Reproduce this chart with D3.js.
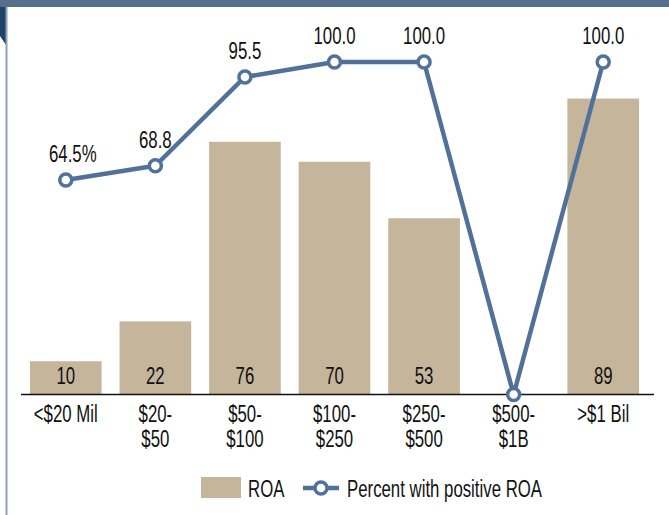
<!DOCTYPE html>
<html>
<head>
<meta charset="utf-8">
<script src="https://cdn.jsdelivr.net/npm/d3@7"></script>
<style>
  body { margin: 0; background: #fff; }
  svg { display: block; font-family: "Liberation Sans", Arial, sans-serif; }
</style>
</head>
<body>
<div id="chart"></div>
<script>
var categories = ["<$20 Mil", "$20-|$50", "$50-|$100", "$100-|$250", "$250-|$500", "$500-|$1B", ">$1 Bil"];
var roa = [10, 22, 76, 70, 53, null, 89];
var pctPositive = [64.5, 68.8, 95.5, 100.0, 100.0, 0, 100.0];
var pctLabels = ["64.5%", "68.8", "95.5", "100.0", "100.0", "", "100.0"];

var w = 669, h = 515;
var barColor = "#c4b59b",
    lineColor = "#52719a",
    textColor = "#111",
    fontSize = "24px",
    squeeze = 0.7;   // condensed look

var svg = d3.select("#chart")
            .append("svg")
            .attr("width", w)
            .attr("height", h);

// places a condensed text at x,y
function place(sel, x, y) {
	return sel.attr("transform", function(d, i) {
		var xx = typeof x === "function" ? x(d, i) : x;
		var yy = typeof y === "function" ? y(d, i) : y;
		return "translate(" + xx + "," + yy + ") scale(" + squeeze + ",1)";
	});
}

// frame decoration
svg.append("rect")
   .attr("x", 0).attr("y", 0)
   .attr("width", w).attr("height", 7)
   .attr("fill", "#56708c");
svg.append("path")
   .attr("d", "M0,7 L6,7 L6,45 L0,36 Z")
   .attr("fill", "#1f4268");
svg.append("line")
   .attr("x1", 6.5).attr("x2", 6.5)
   .attr("y1", 7).attr("y2", h)
   .attr("stroke", "#8ba1b9")
   .attr("stroke-width", 2);

var xScale = d3.scaleBand()
               .domain(categories)
               .range([21, 648])
               .paddingInner(0.2)
               .paddingOuter(0.1);

var yScale = d3.scaleLinear()
               .domain([0, 100])
               .range([394.5, 62]);

var cx = d => xScale(d.cat) + xScale.bandwidth() / 2;

var data = categories.map(function(c, i) {
	return {cat: c, roa: roa[i], pct: pctPositive[i], label: pctLabels[i]};
});

// bars
svg.selectAll("rect.bar")
   .data(data.filter(d => d.roa != null))
   .enter()
   .append("rect")
   .attr("class", "bar")
   .attr("x", d => xScale(d.cat))
   .attr("y", d => yScale(d.roa))
   .attr("width", xScale.bandwidth())
   .attr("height", d => yScale(0) - yScale(d.roa))
   .attr("fill", barColor);

// bar value labels
svg.selectAll("text.val")
   .data(data.filter(d => d.roa != null))
   .enter()
   .append("text")
   .attr("class", "val")
   .attr("text-anchor", "middle")
   .style("font-size", fontSize)
   .attr("fill", textColor)
   .text(d => d.roa)
   .call(place, cx, yScale(0) - 11);

// x axis
var xAxis = d3.axisBottom(xScale).tickSize(0).tickPadding(0);
var gx = svg.append("g")
   .attr("class", "x axis")
   .attr("transform", "translate(0," + yScale(0) + ")")
   .call(xAxis);
gx.select(".domain")
  .attr("d", "M21,0H654")
  .attr("stroke", "#111")
  .attr("stroke-width", 1.5);
gx.selectAll(".tick text").remove();
gx.selectAll(".tick").each(function(d) {
	var t = d3.select(this).append("text")
	          .attr("text-anchor", "middle")
	          .attr("fill", textColor)
	          .style("font-size", fontSize)
	          .attr("transform", "scale(" + squeeze + ",1)");
	d.split("|").forEach(function(part, j) {
		t.append("tspan").attr("x", 0).attr("y", 28 + j * 24.5).text(part);
	});
});

// line
var line = d3.line()
             .x(cx)
             .y(d => yScale(d.pct));

svg.append("path")
   .datum(data)
   .attr("d", line)
   .attr("fill", "none")
   .attr("stroke", lineColor)
   .attr("stroke-width", 4.5)
   .attr("stroke-linejoin", "round");

svg.selectAll("circle.pt")
   .data(data)
   .enter()
   .append("circle")
   .attr("class", "pt")
   .attr("cx", cx)
   .attr("cy", d => yScale(d.pct))
   .attr("r", 6)
   .attr("fill", "#fff")
   .attr("stroke", lineColor)
   .attr("stroke-width", 3.5);

svg.selectAll("text.pct")
   .data(data.filter(d => d.label !== ""))
   .enter()
   .append("text")
   .attr("class", "pct")
   .attr("text-anchor", "middle")
   .style("font-size", fontSize)
   .attr("fill", textColor)
   .text(d => d.label)
   .call(place, (d, i) => cx(d) + (i === 0 ? 7 : 0), d => yScale(d.pct) - 18);

// legend
var legend = svg.append("g").attr("transform", "translate(201,477)");
legend.append("rect")
      .attr("width", 40).attr("height", 21)
      .attr("fill", barColor);
legend.append("text")
      .style("font-size", fontSize)
      .attr("fill", textColor)
      .text("ROA")
      .call(place, 47, 19.5);
legend.append("line")
      .attr("x1", 102).attr("x2", 138)
      .attr("y1", 11).attr("y2", 11)
      .attr("stroke", lineColor)
      .attr("stroke-width", 4.5);
legend.append("circle")
      .attr("cx", 120).attr("cy", 11).attr("r", 6)
      .attr("fill", "#fff")
      .attr("stroke", lineColor)
      .attr("stroke-width", 3.5);
legend.append("text")
      .style("font-size", fontSize)
      .attr("fill", textColor)
      .text("Percent with positive ROA")
      .call(place, 146, 19.5);
</script>
</body>
</html>
